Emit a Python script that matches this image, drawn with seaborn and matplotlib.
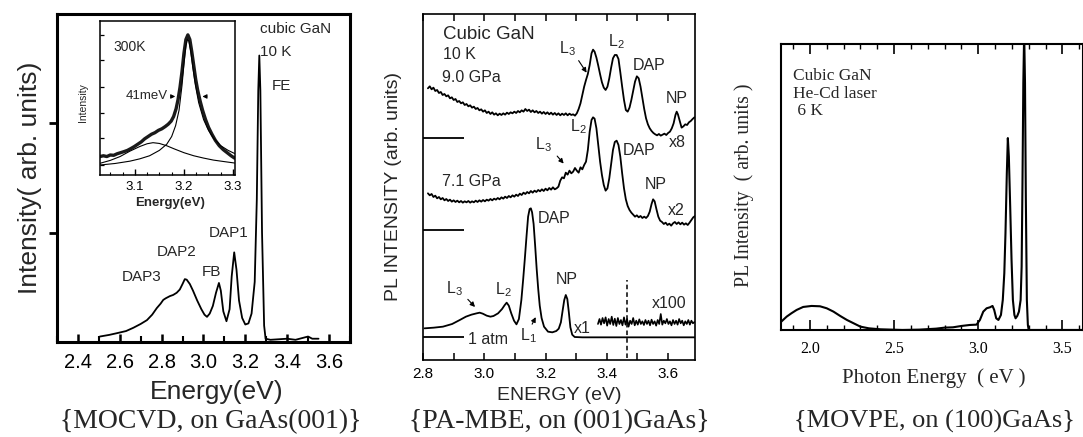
import numpy as np
import matplotlib
matplotlib.use("Agg")
import matplotlib.pyplot as plt
import seaborn as sns
from matplotlib.ticker import MultipleLocator, FixedLocator

sns.set_theme(style="ticks")
plt.rcParams['font.family'] = ['Liberation Sans', 'DejaVu Sans']
plt.rcParams['mathtext.fontset'] = 'custom'
plt.rcParams['mathtext.rm'] = 'Liberation Sans'
plt.rcParams['mathtext.it'] = 'Liberation Sans:italic'
plt.rcParams['mathtext.default'] = 'regular'
plt.rcParams['axes.edgecolor'] = 'black'
plt.rcParams['xtick.color'] = 'black'
plt.rcParams['ytick.color'] = 'black'

# ---------------- Panel 1: MOCVD, 10 K ----------------
mocvd_energy = [2.505, 2.55, 2.585, 2.63, 2.665, 2.70, 2.73, 2.755, 2.777, 2.795, 2.808, 2.82, 2.84,
                2.855, 2.872, 2.887, 2.90, 2.911, 2.92, 2.935, 2.95, 2.97, 2.99, 3.005, 3.017, 3.03,
                3.045, 3.06, 3.074, 3.083, 3.095, 3.11, 3.125, 3.135, 3.147, 3.158, 3.17, 3.185,
                3.20, 3.215, 3.23, 3.245, 3.255, 3.262, 3.267, 3.272, 3.28, 3.29, 3.297, 3.32,
                3.36, 3.40, 3.44, 3.47, 3.50, 3.52, 3.55]
mocvd_intensity = [0.05, 0.065, 0.08, 0.10, 0.13, 0.165, 0.20, 0.25, 0.31, 0.35, 0.385, 0.40, 0.42,
                   0.43, 0.45, 0.48, 0.53, 0.575, 0.57, 0.53, 0.47, 0.38, 0.30, 0.25, 0.23, 0.26,
                   0.33, 0.45, 0.54, 0.47, 0.28, 0.19, 0.30, 0.60, 0.82, 0.66, 0.38, 0.22,
                   0.16, 0.17, 0.26, 0.55, 1.30, 2.30, 2.62, 2.30, 1.00, 0.15, 0.03, 0.02,
                   0.025, 0.03, 0.02, 0.035, 0.05, 0.03, 0.03]

# inset: 300 K spectrum and two fitted components
inset_energy = [3.029, 3.036, 3.043, 3.05, 3.057, 3.064, 3.071, 3.078, 3.085, 3.092, 3.099, 3.106,
                3.113, 3.12, 3.127, 3.134, 3.141, 3.148, 3.155, 3.162, 3.168, 3.174, 3.179, 3.184,
                3.188, 3.192, 3.196, 3.2, 3.204, 3.208, 3.212, 3.216, 3.22, 3.224, 3.228, 3.233,
                3.238, 3.244, 3.25, 3.257, 3.264, 3.272, 3.28, 3.288, 3.296, 3.303]
inset_intensity = [0.12, 0.125, 0.12, 0.13, 0.128, 0.138, 0.145, 0.152, 0.16, 0.172, 0.185, 0.20,
                   0.215, 0.235, 0.25, 0.265, 0.275, 0.29, 0.30, 0.315, 0.33, 0.35, 0.38, 0.43,
                   0.49, 0.57, 0.67, 0.79, 0.88, 0.91, 0.88, 0.80, 0.71, 0.62, 0.55, 0.48,
                   0.42, 0.36, 0.31, 0.265, 0.225, 0.19, 0.165, 0.145, 0.125, 0.11]
fit_main_energy = [3.029, 3.06, 3.09, 3.11, 3.13, 3.15, 3.165, 3.175, 3.183, 3.19, 3.196, 3.2,
                   3.204, 3.207, 3.21, 3.214, 3.218, 3.223, 3.23, 3.24, 3.25, 3.26, 3.275, 3.29, 3.303]
fit_main_intensity = [0.065, 0.075, 0.09, 0.105, 0.125, 0.16, 0.20, 0.25, 0.32, 0.42, 0.58, 0.72,
                      0.84, 0.88, 0.87, 0.80, 0.70, 0.59, 0.47, 0.36, 0.29, 0.24, 0.19, 0.16, 0.14]
fit_low_energy = [3.029, 3.05, 3.07, 3.09, 3.11, 3.125, 3.137, 3.15, 3.165, 3.18, 3.2, 3.22,
                  3.24, 3.26, 3.28, 3.303]
fit_low_intensity = [0.076, 0.095, 0.12, 0.155, 0.185, 0.203, 0.21, 0.205, 0.19, 0.17, 0.145,
                     0.125, 0.11, 0.097, 0.088, 0.078]

# ---------------- Panel 2: PA-MBE, pressure series ----------------
trace_offsets = {'9.0 GPa': 6.65, '7.1 GPa': 3.90, '1 atm': 0.68}

gpa90_energy = [2.816, 2.822, 2.828, 2.834, 2.840, 2.846, 2.852, 2.858, 2.864, 2.870, 2.876, 2.882,
                2.888, 2.894, 2.900, 2.906, 2.912, 2.918, 2.924, 2.930, 2.936, 2.942, 2.948, 2.954,
                2.960, 2.966, 2.972, 2.978, 2.984, 2.990, 2.996, 3.002, 3.008, 3.014, 3.020, 3.026,
                3.032, 3.038, 3.044, 3.050, 3.056, 3.062, 3.068, 3.074, 3.080, 3.086, 3.092, 3.098,
                3.104, 3.110, 3.116, 3.122, 3.128, 3.134, 3.140, 3.146, 3.152, 3.158, 3.164, 3.170,
                3.176, 3.182, 3.188, 3.194, 3.200, 3.206, 3.212, 3.218, 3.224, 3.230, 3.236, 3.242,
                3.248, 3.254, 3.260, 3.266, 3.272, 3.278, 3.284, 3.290, 3.296, 3.302, 3.308, 3.314,
                3.320, 3.326, 3.332, 3.338, 3.344, 3.350, 3.355, 3.360, 3.366, 3.372, 3.378, 3.384,
                3.390, 3.396, 3.402, 3.408, 3.414, 3.420, 3.426, 3.432, 3.438, 3.444, 3.450, 3.456,
                3.462, 3.468, 3.474, 3.480, 3.486, 3.492, 3.498, 3.504, 3.510, 3.516, 3.522, 3.528,
                3.534, 3.540, 3.546, 3.552, 3.558, 3.564, 3.570, 3.576, 3.582, 3.588, 3.594, 3.600,
                3.606, 3.612, 3.618, 3.624, 3.628, 3.632, 3.638, 3.644, 3.650, 3.656, 3.662, 3.668,
                3.674, 3.680, 3.686]
gpa90_intensity = [1.50, 1.56, 1.47, 1.52, 1.42, 1.45, 1.36, 1.39, 1.30, 1.33, 1.26, 1.29,
                   1.20, 1.23, 1.15, 1.18, 1.09, 1.12, 1.05, 1.08, 1.00, 1.03, 0.96, 0.99,
                   0.92, 0.95, 0.88, 0.91, 0.84, 0.87, 0.80, 0.84, 0.76, 0.80, 0.73, 0.78,
                   0.71, 0.75, 0.69, 0.74, 0.70, 0.75, 0.71, 0.77, 0.73, 0.78, 0.75, 0.80,
                   0.76, 0.82, 0.78, 0.84, 0.80, 0.88, 0.82, 0.86, 0.79, 0.84, 0.78, 0.82,
                   0.76, 0.80, 0.74, 0.79, 0.73, 0.78, 0.72, 0.77, 0.71, 0.76, 0.70, 0.75,
                   0.69, 0.74, 0.70, 0.75, 0.69, 0.74, 0.70, 0.72, 0.68, 0.75, 0.88, 1.05,
                   1.30, 1.55, 1.75, 1.93, 2.20, 2.55, 2.66, 2.60, 2.42, 2.18, 1.92, 1.68,
                   1.52, 1.45, 1.55, 1.80, 2.12, 2.40, 2.50, 2.50, 2.38, 1.98, 1.55, 1.15,
                   0.85, 0.80, 0.92, 1.15, 1.42, 1.70, 1.86, 1.80, 1.55, 1.22, 0.88, 0.60,
                   0.42, 0.30, 0.22, 0.16, 0.12, 0.09, 0.13, 0.08, 0.11, 0.14, 0.10, 0.16,
                   0.20, 0.30, 0.45, 0.70, 0.80, 0.72, 0.52, 0.32, 0.36, 0.42, 0.40, 0.48,
                   0.52, 0.58, 0.63]

gpa71_energy = [2.816, 2.822, 2.828, 2.834, 2.840, 2.846, 2.852, 2.858, 2.864, 2.870, 2.876, 2.882,
                2.888, 2.894, 2.900, 2.906, 2.912, 2.918, 2.924, 2.930, 2.936, 2.942, 2.948, 2.954,
                2.960, 2.966, 2.972, 2.978, 2.984, 2.990, 2.996, 3.002, 3.008, 3.014, 3.020, 3.026,
                3.032, 3.038, 3.044, 3.050, 3.056, 3.062, 3.068, 3.074, 3.080, 3.086, 3.092, 3.098,
                3.104, 3.110, 3.116, 3.122, 3.128, 3.134, 3.140, 3.146, 3.152, 3.158, 3.164, 3.170,
                3.176, 3.182, 3.188, 3.194, 3.200, 3.206, 3.212, 3.218, 3.224, 3.230, 3.236, 3.242,
                3.248, 3.254, 3.260, 3.266, 3.272, 3.278, 3.284, 3.290, 3.296, 3.302, 3.308, 3.314,
                3.320, 3.326, 3.332, 3.338, 3.344, 3.350, 3.355, 3.360, 3.366, 3.372, 3.378, 3.384,
                3.390, 3.396, 3.402, 3.408, 3.414, 3.420, 3.426, 3.432, 3.438, 3.444, 3.450, 3.456,
                3.462, 3.468, 3.474, 3.480, 3.486, 3.492, 3.498, 3.504, 3.510, 3.516, 3.522, 3.528,
                3.534, 3.540, 3.546, 3.551, 3.556, 3.562, 3.568, 3.574, 3.580, 3.586, 3.592, 3.598,
                3.604, 3.610, 3.616, 3.622, 3.628, 3.634, 3.640, 3.646, 3.652, 3.658, 3.664, 3.670,
                3.676, 3.682, 3.688]
gpa71_intensity = [1.10, 1.04, 1.08, 0.99, 1.03, 0.95, 0.99, 0.92, 0.96, 0.89, 0.93, 0.87,
                   0.91, 0.85, 0.89, 0.84, 0.88, 0.83, 0.87, 0.82, 0.86, 0.83, 0.87, 0.82,
                   0.86, 0.83, 0.88, 0.84, 0.89, 0.85, 0.90, 0.86, 0.91, 0.88, 0.93, 0.89,
                   0.94, 0.91, 0.96, 0.92, 0.98, 0.94, 1.00, 0.96, 1.02, 0.98, 1.04, 1.00,
                   1.06, 1.02, 1.09, 1.05, 1.12, 1.08, 1.14, 1.10, 1.17, 1.12, 1.18, 1.14,
                   1.20, 1.16, 1.22, 1.17, 1.24, 1.19, 1.26, 1.21, 1.28, 1.22, 1.25, 1.30,
                   1.48, 1.58, 1.55, 1.72, 1.66, 1.78, 1.70, 1.75, 1.86, 1.78, 1.72, 1.88,
                   1.82, 1.95, 2.05, 2.40, 2.95, 3.30, 3.38, 3.34, 3.05, 2.55, 2.05, 1.65,
                   1.35, 1.18, 1.25, 1.55, 1.98, 2.40, 2.64, 2.68, 2.55, 2.20, 1.70, 1.25,
                   0.92, 0.72, 0.60, 0.52, 0.46, 0.40, 0.44, 0.38, 0.42, 0.36, 0.40, 0.36,
                   0.42, 0.55, 0.78, 0.92, 0.86, 0.62, 0.40, 0.28, 0.24, 0.18, 0.22, 0.15,
                   0.19, 0.13, 0.20, 0.24, 0.18, 0.23, 0.17, 0.22, 0.16, 0.20, 0.15, 0.22,
                   0.30, 0.38, 0.42]

atm_energy = [2.805, 2.835, 2.865, 2.895, 2.92, 2.94, 2.958, 2.975, 2.985, 2.995, 3.008, 3.02, 3.03,
              3.045, 3.058, 3.066, 3.073, 3.08, 3.088, 3.097, 3.105, 3.113, 3.121, 3.127, 3.132,
              3.138, 3.143, 3.148, 3.152, 3.156, 3.161, 3.166, 3.171, 3.176, 3.181, 3.187, 3.195,
              3.208, 3.222, 3.235, 3.243, 3.25, 3.256, 3.261, 3.266, 3.271, 3.276, 3.281, 3.287,
              3.295, 3.32, 3.40, 3.50, 3.60, 3.688]
atm_intensity = [0.27, 0.29, 0.32, 0.40, 0.52, 0.62, 0.68, 0.72, 0.74, 0.71, 0.65, 0.62, 0.64,
                 0.72, 0.85, 0.96, 1.04, 0.95, 0.72, 0.50, 0.39, 0.55, 1.12, 1.75, 2.32,
                 3.05, 3.62, 3.85, 3.87, 3.75, 3.40, 2.75, 2.05, 1.45, 0.95, 0.58, 0.32,
                 0.17, 0.15, 0.19, 0.26, 0.45, 0.82, 1.12, 1.27, 1.15, 0.75, 0.30, 0.08,
                 0.01, 0.0, 0.0, 0.0, 0.0, 0.0]

x100_energy = [3.371, 3.376, 3.381, 3.386, 3.391, 3.396, 3.401, 3.406, 3.411, 3.416, 3.421, 3.426,
               3.431, 3.436, 3.441, 3.446, 3.451, 3.456, 3.461, 3.466, 3.471, 3.476, 3.481, 3.486,
               3.491, 3.496, 3.501, 3.506, 3.511, 3.516, 3.521, 3.526, 3.531, 3.536, 3.541, 3.546,
               3.551, 3.556, 3.561, 3.566, 3.571, 3.576, 3.581, 3.586, 3.591, 3.596, 3.601, 3.606,
               3.611, 3.616, 3.621, 3.626, 3.631, 3.636, 3.641, 3.646, 3.651, 3.656, 3.661, 3.666,
               3.671, 3.676, 3.681, 3.686]
x100_intensity = [0.40, 0.55, 0.38, 0.58, 0.42, 0.60, 0.35, 0.55, 0.40, 0.62, 0.37, 0.56,
                  0.34, 0.58, 0.40, 0.52, 0.36, 0.60, 0.38, 0.55, 0.32, 0.50, 0.40, 0.58,
                  0.36, 0.50, 0.38, 0.54, 0.40, 0.48, 0.37, 0.52, 0.40, 0.50, 0.36, 0.53,
                  0.40, 0.48, 0.35, 0.52, 0.40, 0.70, 0.38, 0.50, 0.42, 0.55, 0.40, 0.48,
                  0.36, 0.52, 0.40, 0.50, 0.38, 0.55, 0.42, 0.50, 0.36, 0.48, 0.40, 0.52,
                  0.38, 0.50, 0.42, 0.46]

# ---------------- Panel 3: MOVPE, 6 K ----------------
movpe_energy = [1.83, 1.862, 1.89, 1.921, 1.96, 2.01, 2.06, 2.10, 2.14, 2.18, 2.22, 2.26, 2.30,
                2.35, 2.42, 2.55, 2.65, 2.75, 2.80, 2.85, 2.90, 2.95, 2.99, 3.01, 3.03, 3.05, 3.07,
                3.085, 3.095, 3.107, 3.12, 3.135, 3.146, 3.155, 3.162, 3.17, 3.176, 3.182, 3.19,
                3.198, 3.206, 3.215, 3.222, 3.232, 3.242, 3.252, 3.258, 3.263, 3.268, 3.273, 3.278,
                3.283, 3.289, 3.295, 3.30, 3.40, 3.62]
movpe_intensity = [0.25, 0.40, 0.50, 0.60, 0.69, 0.72, 0.71, 0.65, 0.55, 0.42, 0.30, 0.20, 0.10,
                   0.05, 0.02, 0.0, 0.01, 0.04, 0.07, 0.08, 0.12, 0.15, 0.16, 0.30, 0.55, 0.65, 0.68,
                   0.72, 0.60, 0.35, 0.30, 0.45, 0.90, 1.70, 2.90, 4.70, 5.75, 5.20, 3.70,
                   2.10, 0.90, 0.45, 0.35, 0.42, 0.55, 0.90, 1.90, 4.40, 7.40, 8.90, 7.40,
                   3.90, 0.90, 0.15, 0.0, 0.0, 0.0]

# ============================ Figure ============================
fig = plt.figure(figsize=(10.83, 4.37), dpi=100)
fig.patch.set_facecolor('white')

def line(ax, x, y, lw=1.1, color='black'):
    sns.lineplot(x=np.asarray(x, float), y=np.asarray(y, float), ax=ax, color=color,
                 linewidth=lw, estimator=None, sort=False, legend=False)

# ---------- Panel 1 ----------
ax1 = fig.add_axes([0.0526, 0.2174, 0.2705, 0.7506])
line(ax1, mocvd_energy, mocvd_intensity, lw=1.3)
ax1.set_xlim(2.3, 3.7)
ax1.set_ylim(0, 3.0)
for s in ax1.spines.values():
    s.set_linewidth(2.2)
ax1.xaxis.set_minor_locator(MultipleLocator(0.1))
ax1.set_xticks([2.4, 2.6, 2.8, 3.0, 3.2, 3.4, 3.6])
ax1.set_xticklabels(['2.4', '2.6', '2.8', '3.0', '3.2', '3.4', '3.6'])
ax1.tick_params(axis='x', which='major', direction='in', length=6, width=1.8, pad=8, labelsize=14.5)
ax1.tick_params(axis='x', which='minor', direction='in', length=4, width=1.5)
ax1.set_yticks([1, 2])
ax1.set_yticklabels([])
ax1.tick_params(axis='y', direction='out', length=6, width=2, left=True)
ax1.set_xlabel('Energy(eV)', fontsize=19)
ax1.xaxis.set_label_coords(0.545, -0.115)
ax1.xaxis.label.set_va('top')
ax1.set_ylabel('Intensity( arb. units)', fontsize=19)
ax1.yaxis.set_label_coords(-0.05, 0.5)
ax1.text(3.27, 2.86, 'cubic GaN', fontsize=11, ha='left', va='center')
ax1.text(3.27, 2.65, '10 K', fontsize=11, ha='left', va='center')
ax1.text(3.375, 2.34, 'FE', fontsize=11, ha='center', va='center')
ax1.text(3.122, 1.0, 'DAP1', fontsize=11, ha='center', va='center')
ax1.text(2.873, 0.82, 'DAP2', fontsize=11, ha='center', va='center')
ax1.text(3.04, 0.64, 'FB', fontsize=11, ha='center', va='center')
ax1.text(2.706, 0.59, 'DAP3', fontsize=11, ha='center', va='center')

# ---------- Inset ----------
axi = fig.add_axes([0.0923, 0.5995, 0.1247, 0.3524])
line(axi, inset_energy, inset_intensity, lw=2.4, color='#1a1a1a')
line(axi, fit_main_energy, fit_main_intensity, lw=0.8)
line(axi, fit_low_energy, fit_low_intensity, lw=0.8)
axi.set_xlim(3.029, 3.304)
axi.set_ylim(0, 1.0)
for s in axi.spines.values():
    s.set_linewidth(1.1)
axi.set_xticks([3.1, 3.2, 3.3])
axi.set_xticklabels(['3.1', '3.2', '3.3'])
axi.xaxis.set_minor_locator(MultipleLocator(0.025))
axi.tick_params(axis='x', which='major', direction='in', length=4, width=1, pad=4, labelsize=9.5)
axi.tick_params(axis='x', which='minor', direction='in', length=2.5, width=0.8)
axi.yaxis.set_major_locator(FixedLocator([0.065, 0.238, 0.404, 0.572, 0.745, 0.907]))
axi.set_yticklabels([])
axi.tick_params(axis='y', direction='in', length=3, width=0.9)
axi.set_xlabel('Energy(eV)', fontsize=9.5, fontweight='bold')
axi.xaxis.set_label_coords(0.52, -0.14)
axi.xaxis.label.set_va('top')
axi.set_ylabel('Intensity', fontsize=7.5)
axi.yaxis.set_label_coords(-0.09, 0.47)
axi.text(3.056, 0.83, '300K', fontsize=10, ha='left', va='center')
axi.text(3.124, 0.51, '41meV', fontsize=9.5, ha='center', va='center')
axi.annotate('', xy=(3.188, 0.51), xytext=(3.17, 0.51),
             arrowprops=dict(arrowstyle='-|>', lw=0.8, color='black', mutation_scale=6))
axi.annotate('', xy=(3.232, 0.51), xytext=(3.252, 0.51),
             arrowprops=dict(arrowstyle='-|>', lw=0.8, color='black', mutation_scale=6))

# ---------- Panel 2 ----------
ax2 = fig.add_axes([0.3906, 0.1762, 0.2512, 0.7918])
off90 = trace_offsets['9.0 GPa']
off71 = trace_offsets['7.1 GPa']
off1 = trace_offsets['1 atm']
line(ax2, gpa90_energy, np.asarray(gpa90_intensity) + off90, lw=1.3)
line(ax2, gpa71_energy, np.asarray(gpa71_intensity) + off71, lw=1.3)
line(ax2, atm_energy, np.asarray(atm_intensity) + off1, lw=1.3)
line(ax2, x100_energy, np.asarray(x100_intensity) + off1, lw=1.2)
ax2.hlines([off90, off71, off1], 2.8, 2.935, colors='black', linewidth=1.3)
ax2.vlines(3.467, 0.05, 2.4, colors='black', linewidth=1.1, linestyles=(0, (3, 2)))
ax2.set_xlim(2.8, 3.688)
ax2.set_ylim(0, 10.38)
for s in ax2.spines.values():
    s.set_linewidth(1.2)
ax2.set_xticks([2.8, 3.0, 3.2, 3.4, 3.6])
ax2.set_xticklabels(['2.8', '3.0', '3.2', '3.4', '3.6'])
ax2.xaxis.set_minor_locator(MultipleLocator(0.1))
ax2.tick_params(axis='x', which='both', direction='in', length=5, width=1.1, top=True,
                pad=5, labelsize=11)
ax2.set_yticks([])
ax2.set_xlabel('ENERGY (eV)', fontsize=14)
ax2.xaxis.set_label_coords(0.5, -0.078)
ax2.xaxis.label.set_va('top')
ax2.set_ylabel('PL INTENSITY (arb. units)', fontsize=14)
ax2.yaxis.set_label_coords(-0.077, 0.5)
fs2 = 11.5
ax2.text(2.865, 9.75, 'Cubic GaN', fontsize=13.5, ha='left', va='center')
ax2.text(2.865, 9.17, '10 K', fontsize=fs2, ha='left', va='center')
ax2.text(2.862, 8.48, '9.0 GPa', fontsize=fs2, ha='left', va='center')
ax2.text(3.27, 9.35, 'L$_3$', fontsize=fs2, ha='center', va='center')
ax2.annotate('', xy=(3.339, 8.55), xytext=(3.303, 9.05),
             arrowprops=dict(arrowstyle='-|>', lw=0.8, color='black', mutation_scale=7))
ax2.text(3.431, 9.55, 'L$_2$', fontsize=fs2, ha='center', va='center')
ax2.text(3.537, 8.82, 'DAP', fontsize=fs2, ha='center', va='center')
ax2.text(3.627, 7.85, 'NP', fontsize=fs2, ha='center', va='center')
ax2.text(3.629, 6.52, 'x8', fontsize=fs2, ha='center', va='center')
ax2.text(3.306, 7.0, 'L$_2$', fontsize=fs2, ha='center', va='center')
ax2.text(3.192, 6.45, 'L$_3$', fontsize=fs2, ha='center', va='center')
ax2.annotate('', xy=(3.265, 5.83), xytext=(3.232, 6.18),
             arrowprops=dict(arrowstyle='-|>', lw=0.8, color='black', mutation_scale=7))
ax2.text(3.504, 6.28, 'DAP', fontsize=fs2, ha='center', va='center')
ax2.text(2.862, 5.35, '7.1 GPa', fontsize=fs2, ha='left', va='center')
ax2.text(3.559, 5.25, 'NP', fontsize=fs2, ha='center', va='center')
ax2.text(3.627, 4.48, 'x2', fontsize=fs2, ha='center', va='center')
ax2.text(3.228, 4.25, 'DAP', fontsize=fs2, ha='center', va='center')
ax2.text(3.269, 2.4, 'NP', fontsize=fs2, ha='center', va='center')
ax2.text(2.903, 2.15, 'L$_3$', fontsize=fs2, ha='center', va='center')
ax2.annotate('', xy=(2.976, 1.53), xytext=(2.94, 1.88),
             arrowprops=dict(arrowstyle='-|>', lw=0.8, color='black', mutation_scale=7))
ax2.text(3.061, 2.12, 'L$_2$', fontsize=fs2, ha='center', va='center')
ax2.text(3.145, 0.72, 'L$_1$', fontsize=fs2, ha='center', va='center')
ax2.annotate('', xy=(3.172, 1.36), xytext=(3.152, 1.0),
             arrowprops=dict(arrowstyle='-|>', lw=0.8, color='black', mutation_scale=7))
ax2.text(3.319, 0.95, 'x1', fontsize=fs2, ha='center', va='center')
ax2.text(3.604, 1.7, 'x100', fontsize=fs2, ha='center', va='center')
ax2.text(2.948, 0.6, '1 atm', fontsize=fs2, ha='left', va='center')

# ---------- Panel 3 ----------
serif = ['Liberation Serif', 'DejaVu Serif']
ax3 = fig.add_axes([0.7211, 0.2449, 0.2785, 0.6545])
line(ax3, movpe_energy, movpe_intensity, lw=1.5)
ax3.set_xlim(1.828, 3.62)
ax3.set_ylim(0, 8.57)
for s in ax3.spines.values():
    s.set_linewidth(1.5)
ax3.set_xticks([2.0, 2.5, 3.0, 3.5])
ax3.set_xticklabels(['2.0', '2.5', '3.0', '3.5'], fontfamily=serif)
ax3.xaxis.set_minor_locator(MultipleLocator(0.1))
ax3.tick_params(axis='x', which='major', direction='in', length=7, width=1.2, top=True,
                pad=8, labelsize=11.5)
ax3.tick_params(axis='x', which='minor', direction='in', length=3.5, width=1.0, top=True)
ax3.set_yticks([])
ax3.set_xlabel('Photon Energy  ( eV )', fontsize=15, family=serif)
ax3.xaxis.set_label_coords(0.505, -0.135)
ax3.xaxis.label.set_va('top')
ax3.set_ylabel('PL Intensity  ( arb. units )', fontsize=14.2, family=serif)
ax3.yaxis.set_label_coords(-0.09, 0.507)
ax3.text(1.897, 7.6, 'Cubic GaN', fontsize=12.5, family=serif, ha='left', va='center')
ax3.text(1.897, 7.07, 'He-Cd laser', fontsize=12.5, family=serif, ha='left', va='center')
ax3.text(1.897, 6.55, ' 6 K', fontsize=12.5, family=serif, ha='left', va='center')

# ---------- captions ----------
cap_y = 1 - 428 / 437
fig.text(211 / 1083, cap_y, '{MOCVD, on GaAs(001)}', fontsize=20, family=serif,
         ha='center', va='baseline')
fig.text(559 / 1083, cap_y, '{PA-MBE, on (001)GaAs}', fontsize=20, family=serif,
         ha='center', va='baseline')
fig.text(934 / 1083, cap_y, '{MOVPE, on (100)GaAs}', fontsize=19, family=serif,
         ha='center', va='baseline')

fig.savefig('out.png', dpi=100, facecolor='white')
